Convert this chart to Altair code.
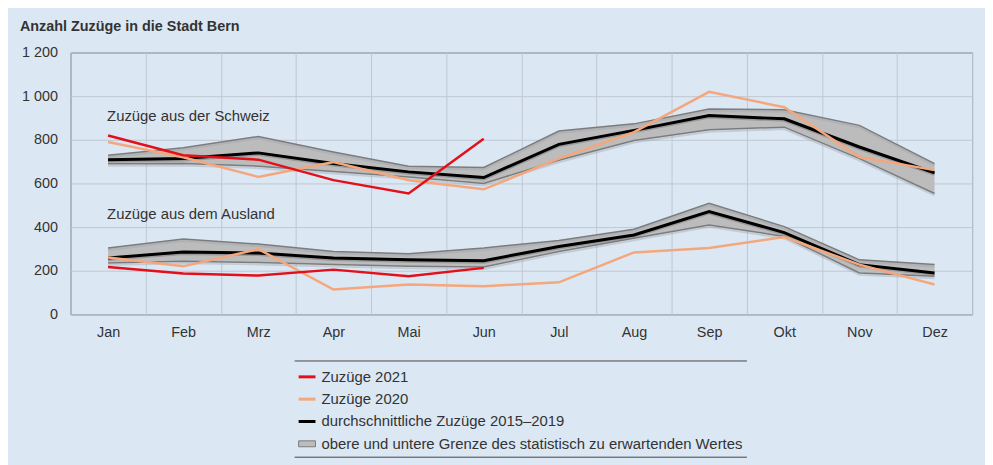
import altair as alt
import pandas as pd

months = ["Jan", "Feb", "Mrz", "Apr", "Mai", "Jun", "Jul", "Aug", "Sep", "Okt", "Nov", "Dez"]

# Zuzüge aus der Schweiz
ch_avg = [709, 714, 740, 691, 653, 627, 779, 843, 911, 896, 767, 648]
ch_upper = [729, 764, 815, 744, 679, 673, 840, 873, 941, 938, 866, 691]
ch_lower = [690, 691, 679, 655, 630, 600, 706, 797, 846, 858, 714, 554]
ch_2020 = [790, 720, 630, 698, 615, 573, 714, 835, 1020, 949, 721, 661]
ch_2021 = [820, 729, 709, 615, 554, 805]

# Zuzüge aus dem Ausland
au_avg = [258, 286, 281, 258, 250, 246, 311, 364, 471, 375, 228, 190]
au_upper = [304, 345, 322, 288, 278, 304, 339, 390, 509, 402, 250, 228]
au_lower = [235, 243, 238, 228, 220, 217, 288, 349, 410, 357, 190, 175]
au_2020 = [261, 220, 299, 114, 137, 129, 147, 284, 304, 354, 228, 137]
au_2021 = [217, 187, 178, 205, 175, 213]

title_text = ["Anzahl Zuzüge in die Stadt Bern"]
annot_labels = ["Zuzüge aus der Schweiz", "Zuzüge aus dem Ausland"]
annot_values = [886, 436]

legend_labels = [
    "Zuzüge 2021",
    "Zuzüge 2020",
    "durchschnittliche Zuzüge 2015–2019",
    "obere und untere Grenze des statistisch zu erwartenden Wertes",
]
legend_colors = ["#e3101a", "#f4a77c", "#000000", "#bcbcbc"]

FONT = "Liberation Sans"
TXT = "#333333"
RED, ORANGE, BLACK, BAND, EDGE = "#e3101a", "#f4a77c", "#000000", "#bcbcbc", "#7c7c7c"

rows = []
for region, avg, up, lo, z20 in [
    ("Schweiz", ch_avg, ch_upper, ch_lower, ch_2020),
    ("Ausland", au_avg, au_upper, au_lower, au_2020),
]:
    for i, m in enumerate(months):
        rows.append(dict(region=region, month=m, avg=avg[i], upper=up[i], lower=lo[i], z2020=z20[i]))
df = pd.DataFrame(rows)

rows21 = []
for region, z21 in [("Schweiz", ch_2021), ("Ausland", au_2021)]:
    for i, v in enumerate(z21):
        rows21.append(dict(region=region, month=months[i], z2021=v))
df21 = pd.DataFrame(rows21)

df_annot = pd.DataFrame({"month": ["Jan", "Jan"], "value": annot_values, "label": annot_labels})

xenc = alt.X(
    "month:N",
    sort=months,
    bandPosition=0.5,
    scale=alt.Scale(type="band", domain=months, paddingInner=0, paddingOuter=0),
    axis=alt.Axis(
        title=None, tickBand="extent", ticks=False, domain=False, grid=True,
        labelPadding=11, labelFontSize=14.5, labelColor=TXT, labelFont=FONT,
        labelAngle=0, gridColor="#bfc7d0", gridWidth=1,
    ),
)
yscale = alt.Scale(domain=[0, 1200], nice=False, zero=True)
yaxis = alt.Axis(
    title=None, values=[0, 200, 400, 600, 800, 1000, 1200], ticks=False, domain=False,
    labelPadding=13, labelFontSize=14.5, labelColor=TXT, labelFont=FONT,
    labelExpr="replace(format(datum.value, ','), ',', ' ')",
    gridColor="#bfc7d0", gridWidth=1,
)

base = alt.Chart(df)

band = base.mark_area(color=BAND, opacity=1).encode(
    x=xenc,
    y=alt.Y("lower:Q", scale=yscale, axis=yaxis),
    y2="upper:Q",
    detail="region:N",
)
shadow_up = base.mark_line(color="#9aa3ad", strokeWidth=2, yOffset=2, opacity=0.4).encode(
    x=xenc, y=alt.Y("upper:Q", scale=yscale), detail="region:N")
shadow_lo = base.mark_line(color="#9aa3ad", strokeWidth=2, yOffset=2, opacity=0.4).encode(
    x=xenc, y=alt.Y("lower:Q", scale=yscale), detail="region:N")
edge_up = base.mark_line(color=EDGE, strokeWidth=1.5).encode(
    x=xenc, y=alt.Y("upper:Q", scale=yscale), detail="region:N")
edge_lo = base.mark_line(color=EDGE, strokeWidth=1.5).encode(
    x=xenc, y=alt.Y("lower:Q", scale=yscale), detail="region:N")
avg_shadow = base.mark_line(color="#6e6e6e", strokeWidth=3, yOffset=1.5, opacity=0.45).encode(
    x=xenc, y=alt.Y("avg:Q", scale=yscale), detail="region:N")
avg_line = base.mark_line(color=BLACK, strokeWidth=3).encode(
    x=xenc, y=alt.Y("avg:Q", scale=yscale), detail="region:N")
line20 = base.mark_line(color=ORANGE, strokeWidth=2.5).encode(
    x=xenc, y=alt.Y("z2020:Q", scale=yscale), detail="region:N")
line21 = alt.Chart(df21).mark_line(color=RED, strokeWidth=2.5).encode(
    x=xenc, y=alt.Y("z2021:Q", scale=yscale), detail="region:N")

annot = alt.Chart(df_annot).mark_text(
    align="left", baseline="alphabetic", dx=-1, fontSize=15, font=FONT, color=TXT
).encode(x=xenc, y=alt.Y("value:Q", scale=yscale), text="label:N")

title = alt.Chart(pd.DataFrame({"label": title_text})).mark_text(
    align="left", baseline="alphabetic", fontSize=14.5, fontWeight="bold", font=FONT, color=TXT
).encode(x=alt.value(-51), y=alt.value(-21.5), text="label:N")

# manual legend below the plot
leg_layers = []
row_y = [327, 349.5, 372, 394.5]
for i, (lab, col) in enumerate(zip(legend_labels, legend_colors)):
    ldf = pd.DataFrame({"label": [lab]})
    if i < 3:
        sym = alt.Chart(ldf).mark_rule(color=col, strokeWidth=3).encode(
            x=alt.value(230), x2=alt.value(247), y=alt.value(row_y[i]))
    else:
        sym = alt.Chart(ldf).mark_rect(color=col, stroke=EDGE, strokeWidth=1).encode(
            x=alt.value(230), x2=alt.value(247), y=alt.value(row_y[i] - 3), y2=alt.value(row_y[i] + 3))
    txt = alt.Chart(ldf).mark_text(
        align="left", baseline="middle", fontSize=15, font=FONT, color=TXT
    ).encode(x=alt.value(253), y=alt.value(row_y[i]), text="label:N")
    leg_layers += [sym, txt]

rule_df = pd.DataFrame({"label": ["legend"]})
rule_top = alt.Chart(rule_df).mark_rule(color="#444444", strokeWidth=1).encode(
    x=alt.value(226), x2=alt.value(682), y=alt.value(311))
rule_bot = alt.Chart(rule_df).mark_rule(color="#444444", strokeWidth=1).encode(
    x=alt.value(226), x2=alt.value(682), y=alt.value(408))

chart = alt.layer(
    band, shadow_up, shadow_lo, edge_up, edge_lo, avg_shadow, avg_line, line20, line21, annot,
    title, rule_top, rule_bot, *leg_layers,
).properties(
    width=909,
    height=264,
    autosize=alt.AutoSizeParams(type="none"),
    padding={"left": 63, "top": 43, "right": 13, "bottom": 150},
    background="#dbe8f4",
).configure_view(
    fill="#dbe8f4", stroke="#5e6670", strokeWidth=1
)

chart.save("out.html", embed_options={"renderer": "svg", "actions": False})
